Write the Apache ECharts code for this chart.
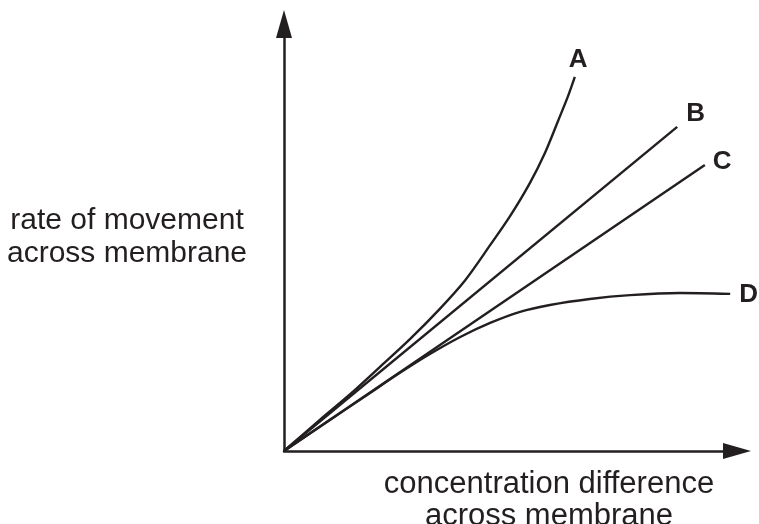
<!DOCTYPE html>
<html>
<head>
<meta charset="utf-8">
<script src="https://cdn.jsdelivr.net/npm/echarts@6/dist/echarts.min.js"></script>
<style>
  html, body { margin: 0; padding: 0; background: #fff; }
  #chart { width: 759px; height: 524px; }
</style>
</head>
<body>
<div id="chart"></div>
<script>
(function() {
  var ink = '#231f20';
  var font = '"Liberation Sans", Arial, sans-serif';

  // curve data, in arbitrary units (0-100 on both axes)
  var curveA = [[0, 0], [7.9, 7.3], [14.6, 13.3], [21.2, 19.7], [27.8, 26.2], [34.4, 33.3],
                [40.0, 40.0], [45.5, 48.2], [49.9, 55.0], [54.3, 62.8], [57.6, 69.8],
                [60.5, 77.3], [62.7, 83.1], [64.2, 87.6]];
  var curveB = [[0, 0], [86.8, 75.9]];
  var curveC = [[0, 0], [92.9, 67.0]];
  var curveD = [[0, 0], [10.2, 7.3], [19.0, 13.6], [25.6, 18.3], [32.2, 22.7], [38.9, 26.7],
                [45.5, 30.0], [52.1, 32.6], [58.7, 34.2], [67.5, 35.6], [76.4, 36.5],
                [87.4, 37.0], [98.5, 36.8]];
  var curveNames = ['A', 'B', 'C', 'D'];
  var xTitle = 'concentration difference\nacross membrane';
  var yTitle = 'rate of movement\nacross membrane';

  var curves = [curveA, curveB, curveC, curveD];
  var labelOffsets = [[-6, -17], [9, -13], [8, -3], [9, 1]];

  var chart = echarts.init(document.getElementById('chart'), null, { renderer: 'canvas' });

  var axisLine = {
    show: true,
    symbol: ['none', 'triangle'],
    symbolSize: [16, 28],
    lineStyle: { color: ink, width: 2.5 }
  };

  chart.setOption({
    animation: false,
    grid: { left: 284, right: 22, top: 24, bottom: 73, outerBoundsMode: 'none', containLabel: false },
    xAxis: {
      type: 'value', min: 0, max: 100,
      axisLine: axisLine,
      axisTick: { show: false }, axisLabel: { show: false }, splitLine: { show: false },
      name: xTitle,
      nameLocation: 'middle',
      nameGap: 17,
      nameTextStyle: { color: ink, fontSize: 31, fontFamily: font, lineHeight: 32, padding: [0, 0, 0, 77] }
    },
    yAxis: {
      type: 'value', min: 0, max: 100,
      axisLine: axisLine,
      axisTick: { show: false }, axisLabel: { show: false }, splitLine: { show: false },
      name: yTitle,
      nameLocation: 'middle',
      nameRotate: 0,
      nameGap: 157,
      nameTextStyle: { color: ink, fontSize: 30, fontFamily: font, lineHeight: 33, align: 'center', padding: [0, 0, 19, 0] }
    },
    series: curves.map(function(pts, i) {
      return {
        name: curveNames[i],
        type: 'line',
        data: pts,
        smooth: 0.3,
        showSymbol: false,
        lineStyle: { color: ink, width: 2.4 },
        endLabel: {
          show: true,
          formatter: curveNames[i],
          distance: 0,
          offset: labelOffsets[i],
          color: ink,
          fontSize: 26,
          fontWeight: 'bold',
          fontFamily: font
        }
      };
    })
  });
})();
</script>
</body>
</html>
